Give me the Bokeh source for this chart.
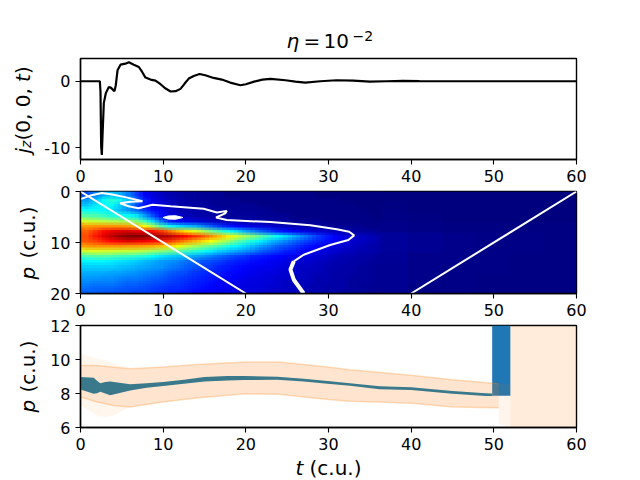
from math import pi

import numpy as np
from bokeh.embed import file_html
from bokeh.layouts import column
from bokeh.models import FixedTicker, Label, LinearColorMapper, Range1d
from bokeh.plotting import figure
from bokeh.resources import INLINE

# top panel: j_z(0, 0, t)
jz_t = [0, 2.34, 2.42, 2.5, 2.58, 2.66, 2.82, 3.06, 3.43, 3.7, 4.1, 4.27, 4.48, 4.84, 5.44, 5.85, 6.45, 7.06,
        7.46, 7.86, 8.47, 9.07, 9.68, 10.3, 10.9, 11.5, 12.1, 12.6, 13.1, 13.7, 14.4, 15.1, 16.1, 17.1, 18.1,
        19.35, 20, 21, 22, 23, 24.8, 26, 27.2, 29, 31, 33, 35, 37, 39, 41, 45, 60]
jz_v = [0, 0, -1.6, -9.8, -11.1, -8.3, -3.3, -1.8, -0.85, -1, -1.5, -0.6, 1.65, 2.5, 2.65, 2.85, 2.5, 2.15,
        1.4, 0.55, 0.25, 0.1, -0.45, -1.1, -1.55, -1.5, -1.15, -0.35, 0.4, 0.8, 1.1, 0.9, 0.5, 0.25, -0.2,
        -0.6, -0.45, -0.05, 0.25, 0.35, 0.15, -0.05, -0.2, 0, 0.15, 0.1, -0.05, 0, 0.05, 0.03, 0, 0]

# middle panel: spectrum in percent of the colour range, rows p = 0.5 .. 19.5, columns t = 0.5 .. 35.5
heat_near = [
    [20, 25, 30, 32, 30, 25, 18, 12, 9, 7, 5, 4, 3, 3, 2, 2, 2, 1, 1, 1, 1, 1, 1, 1, 1, 1, 1, 1, 0, 0, 0, 0, 0, 0, 0, 0],
    [28, 32, 38, 42, 40, 32, 24, 16, 11, 8, 6, 5, 4, 3, 3, 2, 2, 2, 2, 1, 1, 1, 1, 1, 1, 1, 1, 1, 1, 1, 1, 0, 0, 0, 0, 0],
    [32, 35, 38, 38, 33, 28, 20, 14, 11, 9, 7, 5, 4, 4, 3, 3, 2, 2, 2, 2, 2, 1, 1, 1, 1, 1, 1, 1, 1, 1, 1, 1, 1, 0, 0, 0],
    [38, 38, 37, 35, 31, 27, 23, 18, 14, 11, 8, 6, 5, 5, 4, 4, 3, 3, 3, 2, 2, 2, 2, 1, 1, 1, 1, 1, 1, 1, 1, 1, 1, 1, 0, 0],
    [46, 45, 43, 41, 40, 38, 35, 28, 20, 14, 10, 8, 6, 5, 4, 4, 4, 3, 3, 3, 3, 2, 2, 2, 2, 1, 1, 1, 1, 1, 1, 1, 1, 1, 1, 0],
    [58, 57, 56, 55, 54, 53, 50, 43, 34, 24, 16, 13, 11, 9, 8, 7, 6, 5, 5, 4, 4, 4, 3, 3, 3, 2, 2, 2, 2, 1, 1, 1, 1, 1, 1, 1],
    [72, 73, 73, 73, 73, 72, 69, 62, 55, 45, 39, 35, 32, 30, 26, 22, 18, 15, 13, 11, 10, 9, 8, 7, 6, 5, 5, 4, 4, 3, 2, 2, 2, 2, 1, 1],
    [78, 82, 86, 89, 90, 91, 90, 88, 86, 82, 76, 70, 65, 60, 55, 49, 44, 39, 35, 30, 26, 22, 19, 16, 14, 12, 10, 9, 8, 7, 6, 5, 4, 3, 3, 2],
    [80, 85, 90, 94, 97, 99, 100, 99, 98, 96, 94, 91, 87, 83, 79, 74, 69, 64, 59, 55, 51, 46, 42, 38, 34, 30, 26, 22, 18, 15, 12, 10, 8, 7, 6, 5],
    [79, 81, 84, 87, 89, 90, 89, 88, 86, 84, 82, 78, 74, 70, 66, 62, 57, 53, 48, 44, 40, 36, 32, 29, 26, 23, 20, 18, 16, 14, 12, 10, 8, 7, 6, 5],
    [72, 73, 73, 73, 73, 72, 72, 71, 70, 68, 66, 62, 58, 54, 50, 47, 44, 40, 37, 34, 31, 28, 25, 22, 20, 18, 16, 14, 12, 10, 9, 8, 7, 6, 5, 4],
    [58, 59, 58, 58, 57, 57, 56, 55, 53, 51, 49, 47, 44, 42, 39, 36, 33, 31, 29, 27, 25, 22, 20, 18, 16, 15, 13, 12, 10, 9, 8, 7, 6, 5, 5, 4],
    [45, 46, 46, 45, 44, 43, 42, 41, 38, 35, 33, 32, 31, 29, 27, 25, 23, 21, 19, 18, 16, 15, 14, 13, 12, 11, 10, 9, 8, 7, 6, 5, 5, 4, 4, 3],
    [37, 37, 37, 36, 35, 34, 33, 31, 30, 28, 27, 26, 24, 23, 21, 20, 19, 17, 16, 15, 14, 13, 12, 11, 10, 9, 8, 8, 7, 6, 5, 5, 4, 4, 3, 3],
    [33, 33, 33, 33, 32, 31, 30, 29, 28, 27, 25, 24, 22, 21, 19, 18, 16, 15, 14, 13, 12, 11, 11, 10, 9, 8, 7, 7, 6, 5, 5, 4, 4, 3, 3, 2],
    [30, 30, 30, 29, 29, 28, 27, 26, 25, 24, 22, 21, 20, 18, 17, 16, 15, 14, 13, 12, 11, 10, 10, 9, 8, 8, 7, 6, 6, 5, 4, 4, 4, 3, 3, 2],
    [28, 28, 27, 27, 26, 25, 25, 24, 23, 22, 20, 19, 18, 17, 16, 15, 14, 13, 12, 11, 10, 10, 9, 8, 8, 7, 7, 6, 5, 5, 4, 4, 3, 3, 3, 2],
    [26, 25, 25, 25, 24, 23, 23, 22, 21, 20, 19, 18, 17, 16, 15, 14, 13, 12, 11, 10, 10, 9, 9, 8, 7, 7, 6, 6, 5, 5, 4, 4, 3, 3, 3, 2],
    [24, 23, 23, 23, 22, 21, 21, 20, 19, 18, 17, 17, 16, 15, 14, 13, 12, 11, 10, 10, 9, 9, 8, 8, 7, 7, 6, 5, 5, 4, 4, 4, 3, 3, 2, 2],
    [22, 22, 21, 21, 20, 20, 19, 19, 18, 17, 16, 16, 15, 14, 13, 12, 11, 11, 10, 9, 9, 8, 8, 7, 7, 6, 6, 5, 5, 4, 4, 3, 3, 3, 2, 2],
]
# rows p = 1, 3 .. 19, columns t = 38, 42 .. 58
heat_far = [
    [0, 0, 0, 0, 0, 0],
    [0.5, 0, 0, 0, 0, 0],
    [1, 0.5, 0, 0, 0, 0],
    [1.5, 1, 0.5, 0.5, 0.5, 0.5],
    [3, 2, 1.5, 1, 1, 0.5],
    [3, 2, 1.5, 1, 1, 0.5],
    [2.5, 1.5, 1.5, 1, 0.5, 0.5],
    [2, 1.5, 1, 1, 0.5, 0.5],
    [2, 1.5, 1, 0.5, 0.5, 0.5],
    [2, 1, 1, 0.5, 0.5, 0.5],
]
jet_stops = ["#00007f", "#0000ff", "#007fff", "#00ffff", "#7fff7f", "#ffff00", "#ff7f00", "#ff0000", "#7f0000"]

cone_left_t = [0, 20]
cone_left_p = [0, 20]
cone_right_t = [40, 60]
cone_right_p = [20, 0]
contour_t = [0, 1.2, 2.6, 4, 5.4, 7.5, 6, 4.8, 5.8, 7, 8, 8.7, 10.9, 14.9, 16.5, 17.7, 17.5, 16.4, 17.7, 23, 27.8,
             31, 32.5, 33.1, 32.4, 30.2, 27, 25.8]
contour_p = [1.5, 0.8, 0.3, 0.65, 1.1, 1.9, 2, 2.3, 2.9, 3.3, 2.9, 2.6, 2.9, 3.4, 4.1, 3.8, 4.3, 5.1, 5.6, 6, 6.6,
             7.4, 7.9, 8.6, 9.5, 10.5, 12.4, 13.7]
contour_low_t = [25.8, 25.4, 25.8, 27]
contour_low_p = [13.7, 15.3, 17.3, 20]
island_t = [10, 10.6, 11.5, 12.4, 11.5, 10.6, 10]
island_p = [5.1, 4.8, 4.75, 5.1, 5.45, 5.4, 5.1]

# bottom panel: particle momentum and its spread
band_t = [0, 2, 4, 6, 10, 14, 20, 24, 27, 30, 32.5, 36, 40, 45, 50, 50.6]
band_hi = [9.65, 9.65, 9.55, 9.46, 9.56, 9.7, 9.85, 9.85, 9.7, 9.56, 9.4, 9.25, 9.07, 8.81, 8.61, 8.58]
band_lo = [7.8, 7.5, 7.3, 7.2, 7.5, 7.73, 7.98, 7.95, 7.8, 7.65, 7.55, 7.5, 7.43, 7.2, 7.16, 7.16]
fade_t = [0, 1, 2, 3, 4, 6]
fade_hi = [10.35, 10.2, 10.05, 9.95, 9.8, 9.46]
fade_hi_base = [9.65, 9.65, 9.65, 9.6, 9.55, 9.46]
fade_lo = [7.3, 7, 6.7, 6.6, 6.7, 7.2]
fade_lo_base = [7.8, 7.65, 7.5, 7.4, 7.3, 7.2]
tail_fade_t = [50.6, 52]
tail_fade_hi = [8.58, 8.55]
tail_fade_lo = [6.2, 6]
tail_t = [52, 60]
tail_hi = [12, 12]
tail_lo = [6, 6]
mean_t = [0, 1.6, 2.0, 2.4, 3.0, 3.6, 6, 8, 10, 12.5, 15, 17.8, 19.8, 23.8, 27, 30.2, 32.6, 36.2, 40, 45, 49, 49.8]
mean_hi = [8.97, 8.93, 8.75, 8.6, 8.68, 8.71, 8.54, 8.61, 8.67, 8.81, 8.97, 9.03, 9.03, 8.99, 8.87, 8.72, 8.6, 8.42, 8.37, 8.15, 8.02, 8.0]
mean_lo = [8.24, 7.98, 8.02, 8.1, 8.0, 7.89, 8.18, 8.34, 8.44, 8.57, 8.71, 8.77, 8.79, 8.81, 8.71, 8.56, 8.45, 8.25, 8.2, 7.98, 7.86, 7.86]
column_t = [49.8, 52]
column_hi = [12, 12]
column_lo = [7.87, 7.87]

t_ticks = [0, 10, 20, 30, 40, 50, 60]
jz_ticks = [-10, 0]
p_ticks_mid = [0, 10, 20]
p_ticks_low = [6, 8, 10, 12]

FONT = "DejaVu Sans"


def make_panel(height, top, bottom, y_range, y_ticks):
    p = figure(width=640, height=height, x_range=Range1d(0, 60), y_range=y_range,
               output_backend="svg", toolbar_location=None,
               min_border_left=80, min_border_right=64, min_border_top=top, min_border_bottom=bottom)
    p.grid.visible = False
    p.outline_line_color = "black"
    p.outline_line_alpha = 1
    p.outline_line_width = 1.4
    p.xaxis.ticker = FixedTicker(ticks=t_ticks)
    p.yaxis.ticker = FixedTicker(ticks=y_ticks)
    for ax in [p.xaxis[0], p.yaxis[0]]:
        ax.major_label_text_font = FONT
        ax.major_label_text_font_size = "16px"
        ax.major_label_text_color = "black"
        ax.axis_line_width = 1.4
        ax.major_tick_line_width = 1.1
        ax.major_tick_out = 5
        ax.major_tick_in = 0
        ax.minor_tick_out = 0
        ax.minor_tick_in = 0
    return p


# Create the three panels
p1 = make_panel(184, 58, 24, Range1d(-11.8, 3.43), jz_ticks)
p1.yaxis.major_label_overrides = {-10: "-10", 0: "0"}
p1.line(jz_t, jz_v, line_color="black", line_width=2.2)

p2 = make_panel(134, 7, 25, Range1d(20, 0), p_ticks_mid)
jet_rgb = np.array([[int(c[i:i + 2], 16) for i in (1, 3, 5)] for c in jet_stops])
pos = np.linspace(0, 1, 256)
jet = ["#%02x%02x%02x" % tuple(int(np.interp(v, np.linspace(0, 1, 9), jet_rgb[:, k])) for k in range(3)) for v in pos]
mapper = LinearColorMapper(palette=jet, low=0, high=100)
near = np.array(heat_near, dtype=float)
p2.image(image=[np.array(heat_far, dtype=float)], x=35.5, y=0, dw=24.5, dh=20, color_mapper=mapper)
# the same grid drawn four times half a cell apart, so that the cells blend as in the original
for dx, dy, alpha in [(0, 0, 1), (0.5, 0, 0.5), (0, 0.5, 0.33), (0.5, 0.5, 0.25)]:
    p2.image(image=[near], x=dx, y=dy, dw=36, dh=20, color_mapper=mapper, global_alpha=alpha)
p2.line(contour_t, contour_p, line_color="white", line_width=2)
p2.line(contour_low_t, contour_low_p, line_color="white", line_width=4)
p2.patch(island_t, island_p, fill_color="white", line_color="white", line_width=1)
p2.line(cone_left_t, cone_left_p, line_color="white", line_width=2)
p2.line(cone_right_t, cone_right_p, line_color="white", line_width=2)

p3 = make_panel(161, 7, 52, Range1d(6, 12), p_ticks_low)
blue = "#1f77b4"
orange = "#ff7f0e"
teal = "#3a788c"
p3.varea(column_t, column_lo, column_hi, fill_color=blue)
p3.varea(band_t, band_lo, band_hi, fill_color=orange, fill_alpha=0.2)
p3.varea(fade_t, fade_hi_base, fade_hi, fill_color=orange, fill_alpha=0.07)
p3.varea(fade_t, fade_lo, fade_lo_base, fill_color=orange, fill_alpha=0.07)
p3.varea(tail_fade_t, tail_fade_lo, tail_fade_hi, fill_color=orange, fill_alpha=0.08)
p3.varea(tail_t, tail_lo, tail_hi, fill_color=orange, fill_alpha=0.15)
p3.line(band_t, band_hi, line_color=orange, line_alpha=0.25, line_width=1.5)
p3.line(band_t, band_lo, line_color=orange, line_alpha=0.25, line_width=1.5)
p3.varea(mean_t, mean_lo, mean_hi, fill_color=teal)

# mixed italic and upright labels: a see-through figure over the whole page carries them
overlay = figure(width=640, height=480, x_range=Range1d(0, 640), y_range=Range1d(480, 0),
                 output_backend="svg", toolbar_location=None, x_axis_location=None, y_axis_location=None,
                 min_border=0, outline_line_color=None, background_fill_alpha=0, border_fill_alpha=0,
                 styles={"position": "absolute", "left": "0px", "top": "0px", "pointer-events": "none"})
overlay.grid.visible = False


def add_text(x, y, text, size="20px", style="normal", angle=0.0):
    # x, y are the pixels of the text's start on the page, y counted from the top
    overlay.add_layout(Label(x=x, y=y, text=text, text_font=FONT, text_font_size=size, text_font_style=style,
                             text_color="black", angle=angle, text_align="left", text_baseline="alphabetic"))


add_text(286, 40, "η", "20px", "italic")
add_text(303, 40, "=", "20px")
add_text(323, 40, "10", "20px")
add_text(352, 35, "−2", "14px")
add_text(22, 153, "j", "20px", "italic", pi / 2)
add_text(25, 147.5, "z", "14px", "italic", pi / 2)
add_text(22, 140, "(0, 0, ", "20px", "normal", pi / 2)
add_text(22, 81.4, "t", "20px", "italic", pi / 2)
add_text(22, 73.4, ")", "20px", "normal", pi / 2)
add_text(27, 279, "p", "20px", "italic", pi / 2)
add_text(27, 258, "(c.u.)", "20px", "normal", pi / 2)
add_text(27, 412, "p", "20px", "italic", pi / 2)
add_text(27, 392, "(c.u.)", "20px", "normal", pi / 2)
add_text(295, 467, "t", "20px", "italic")
add_text(309, 467, "(c.u.)", "20px")

layout = column(p1, p2, p3, spacing=0)
open("out.html", "w").write(file_html([layout, overlay], INLINE))
